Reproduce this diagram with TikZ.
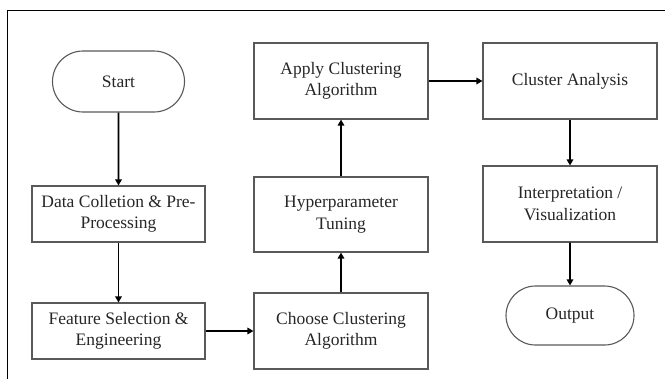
\documentclass[tikz,border=0pt]{standalone}
\usepackage{fontspec}
\setmainfont{Liberation Serif}
\usetikzlibrary{shapes.misc,arrows.meta}
\begin{document}
\begin{tikzpicture}[x=1bp,y=-1bp,
  every node/.style={font=\fontsize{17.5bp}{21.5bp}\selectfont, text=black!85, align=center, inner sep=0pt},
  procbox/.style={draw=black!65, line width=1.1bp, rectangle, minimum width=174bp, minimum height=76bp},
  smallbox/.style={draw=black!65, line width=1.1bp, rectangle, minimum width=173bp, minimum height=56bp},
  terminal/.style={draw=black!65, line width=1.1bp, rounded rectangle},
  flow/.style={draw=black, line width=1.8bp, -{Triangle[length=6bp,width=6.5bp]}}
]
\useasboundingbox (0,0) rectangle (669,379);
% frame edges
\draw[line width=1bp] (7,379) -- (7,10) -- (665,10);

% left column
\node[terminal, minimum width=132bp, minimum height=61bp] (start) at (118.5,81.5) {Start};
\node[smallbox] (data) at (118.5,214) {Data Colletion \& Pre-\\Processing};
\node[smallbox] (feat) at (118.5,331) {Feature Selection \&\\Engineering};

% middle column
\node[procbox] (choose) at (341,331) {Choose Clustering\\Algorithm};
\node[procbox, minimum height=75bp] (hyper) at (341,214.5) {Hyperparameter\\Tuning};
\node[procbox] (apply) at (341,81) {Apply Clustering\\Algorithm};

% right column
\node[procbox] (analysis) at (570,81) {Cluster Analysis};
\node[procbox] (interp) at (570,204) {Interpretation /\\Visualization};
\node[terminal, minimum width=128bp, minimum height=59bp] (out) at (570,315.5) {Output};

% connectors
\draw[flow] (start) -- (data);
\draw[flow] (data) -- (feat);
\draw[flow] (feat) -- (choose);
\draw[flow] (choose) -- (hyper);
\draw[flow] (hyper) -- (apply);
\draw[flow] (apply) -- (analysis);
\draw[flow] (analysis) -- (interp);
\draw[flow] (interp) -- (out);
\end{tikzpicture}
\end{document}
